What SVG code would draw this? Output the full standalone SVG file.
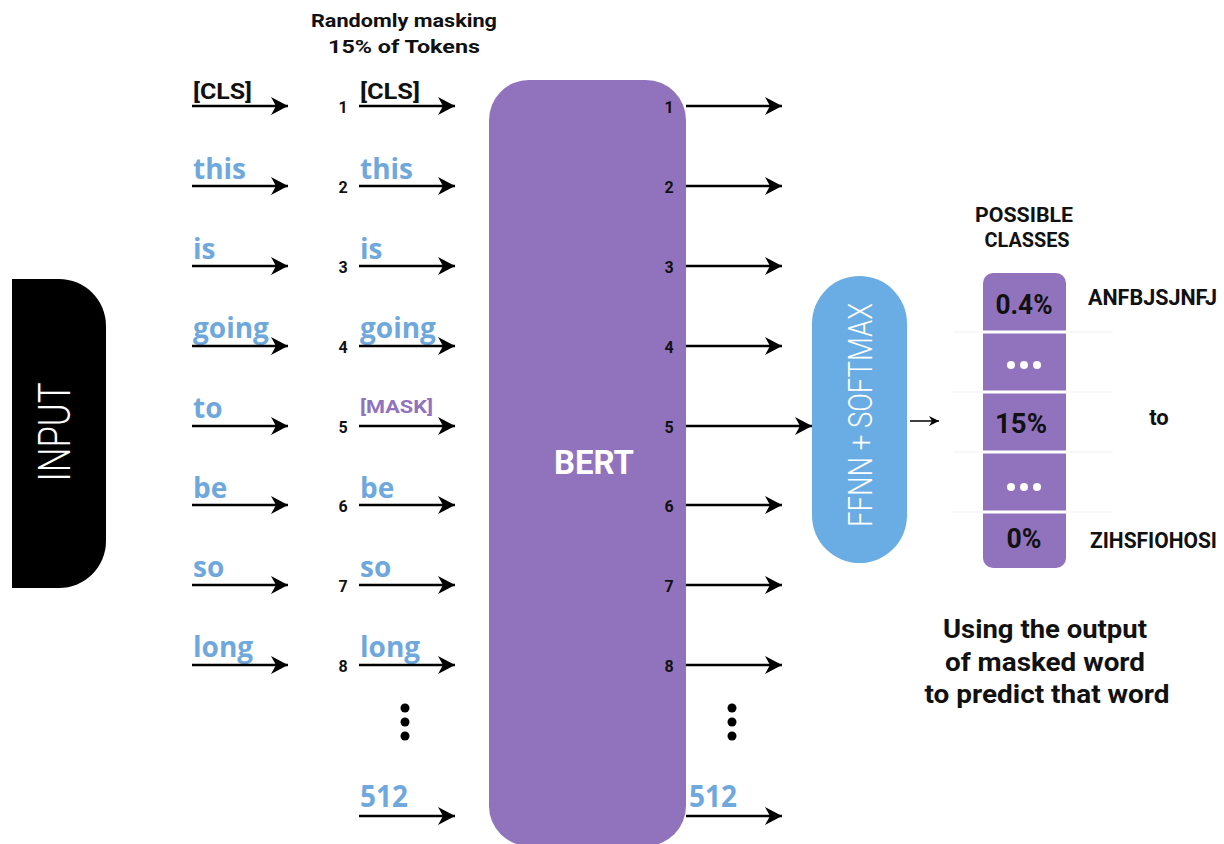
<svg xmlns="http://www.w3.org/2000/svg" width="1224" height="844" viewBox="0 0 1224 844">
<style>
.t{font-family:Roboto,"Liberation Sans",sans-serif;font-weight:bold;fill:#111}
.w{font-family:"Open Sans","Liberation Sans",sans-serif;font-weight:bold;font-size:28px;fill:#6FA8DC}
.n{font-family:Roboto,"Liberation Sans",sans-serif;font-weight:bold;font-size:16px;fill:#111;text-anchor:middle}
.c{stroke:#000;stroke-width:2.5;fill:none}
.sep{stroke:#fff;stroke-width:3}
.faint{stroke:#f6f6f6;stroke-width:1.5}
</style>
<defs>
<marker id="ah" markerUnits="userSpaceOnUse" markerWidth="18" markerHeight="18" refX="17" refY="9" orient="auto">
<path d="M0,0 L17,9 L0,18 L5,9 Z" fill="#000"/>
</marker>
<marker id="ahs" markerUnits="userSpaceOnUse" markerWidth="10" markerHeight="10" refX="10" refY="5" orient="auto">
<path d="M0,0 L10,5 L0,10 L3,5 Z" fill="#000"/>
</marker>
</defs>
<rect width="1224" height="844" fill="#fff"/>

<g id="input">
<path d="M12,279 H59 A47,47 0 0 1 106,326 V541 A47,47 0 0 1 59,588 H12 Z" fill="#000"/>
<text transform="translate(70,432) rotate(-90)" text-anchor="middle" font-family="Roboto,'Liberation Sans',sans-serif" font-weight="300" font-size="44" fill="#fff" textLength="99" lengthAdjust="spacingAndGlyphs">INPUT</text>
</g>

<g id="title">
<text class="t" x="404" y="27" font-size="19" text-anchor="middle" textLength="186" lengthAdjust="spacingAndGlyphs">Randomly masking</text>
<text class="t" x="404" y="53" font-size="19" text-anchor="middle" textLength="152" lengthAdjust="spacingAndGlyphs">15% of Tokens</text>
</g>

<g id="input-tokens">
<text class="t" x="193" y="99" font-size="22" textLength="59" lengthAdjust="spacingAndGlyphs">[CLS]</text>
<text class="w" x="193" y="179">this</text>
<text class="w" x="193" y="259">is</text>
<text class="w" x="193" y="338">going</text>
<text class="w" x="193" y="418">to</text>
<text class="w" x="193" y="498">be</text>
<text class="w" x="193" y="577">so</text>
<text class="w" x="193" y="657">long</text>
</g>

<g id="masked-tokens">
<text class="t" x="360" y="99" font-size="22" textLength="60" lengthAdjust="spacingAndGlyphs">[CLS]</text>
<text class="w" x="360" y="179">this</text>
<text class="w" x="360" y="259">is</text>
<text class="w" x="360" y="338">going</text>
<text class="t" x="360" y="413" font-size="19" style="fill:#9173BD" textLength="73" lengthAdjust="spacingAndGlyphs">[MASK]</text>
<text class="w" x="360" y="498">be</text>
<text class="w" x="360" y="577">so</text>
<text class="w" x="360" y="657">long</text>
<text class="w" x="360" y="807" style="font-size:30px" textLength="48" lengthAdjust="spacingAndGlyphs">512</text>
<circle cx="405" cy="708" r="4.5" fill="#000"/>
<circle cx="405" cy="722" r="4.5" fill="#000"/>
<circle cx="405" cy="736" r="4.5" fill="#000"/>
<text class="n" x="343" y="113">1</text>
<text class="n" x="343" y="193">2</text>
<text class="n" x="343" y="273">3</text>
<text class="n" x="343" y="353">4</text>
<text class="n" x="343" y="433">5</text>
<text class="n" x="343" y="512">6</text>
<text class="n" x="343" y="592">7</text>
<text class="n" x="343" y="672">8</text>
</g>

<g id="bert">
<rect x="489" y="80" width="197" height="766" rx="40" fill="#9173BD"/>
<text class="t" x="594" y="474" font-size="34" text-anchor="middle" style="fill:#fff" textLength="80" lengthAdjust="spacingAndGlyphs">BERT</text>
<text class="n" x="669" y="113">1</text>
<text class="n" x="669" y="193">2</text>
<text class="n" x="669" y="273">3</text>
<text class="n" x="669" y="353">4</text>
<text class="n" x="669" y="433">5</text>
<text class="n" x="669" y="512">6</text>
<text class="n" x="669" y="592">7</text>
<text class="n" x="669" y="672">8</text>
</g>

<g id="outputs">
<text class="w" x="689" y="807" style="font-size:30px" textLength="48" lengthAdjust="spacingAndGlyphs">512</text>
<circle cx="732" cy="708" r="4.5" fill="#000"/>
<circle cx="732" cy="722" r="4.5" fill="#000"/>
<circle cx="732" cy="736" r="4.5" fill="#000"/>
</g>

<g id="ffnn">
<rect x="812" y="276" width="95" height="287" rx="47.5" fill="#6AADE4"/>
<text transform="translate(872,415) rotate(-90)" text-anchor="middle" font-family="Roboto,'Liberation Sans',sans-serif" font-weight="300" font-size="33" fill="#fff" textLength="224" lengthAdjust="spacingAndGlyphs">FFNN + SOFTMAX</text>
</g>

<g id="classes">
<text class="t" x="1024" y="222" font-size="20" text-anchor="middle" textLength="98" lengthAdjust="spacingAndGlyphs">POSSIBLE</text>
<text class="t" x="1027" y="247" font-size="20" text-anchor="middle" textLength="85" lengthAdjust="spacingAndGlyphs">CLASSES</text>
<line class="faint" x1="953" y1="332" x2="1113" y2="332"/>
<line class="faint" x1="953" y1="392" x2="1113" y2="392"/>
<line class="faint" x1="953" y1="452" x2="1113" y2="452"/>
<line class="faint" x1="953" y1="512" x2="1113" y2="512"/>
<rect x="983" y="273" width="83" height="295" rx="10" fill="#9173BD"/>
<line class="sep" x1="983" y1="332" x2="1066" y2="332"/>
<line class="sep" x1="983" y1="392" x2="1066" y2="392"/>
<line class="sep" x1="983" y1="452" x2="1066" y2="452"/>
<line class="sep" x1="983" y1="512" x2="1066" y2="512"/>
<text class="t" x="1024" y="314" font-size="28" text-anchor="middle" textLength="57" lengthAdjust="spacingAndGlyphs">0.4%</text>
<circle cx="1011" cy="365" r="4" fill="#fff"/>
<circle cx="1024" cy="365" r="4" fill="#fff"/>
<circle cx="1037" cy="365" r="4" fill="#fff"/>
<text class="t" x="1021" y="433" font-size="28" text-anchor="middle" textLength="52" lengthAdjust="spacingAndGlyphs">15%</text>
<circle cx="1011" cy="487" r="4" fill="#fff"/>
<circle cx="1024" cy="487" r="4" fill="#fff"/>
<circle cx="1037" cy="487" r="4" fill="#fff"/>
<text class="t" x="1024" y="548" font-size="28" text-anchor="middle" textLength="35" lengthAdjust="spacingAndGlyphs">0%</text>
<text class="t" x="1088" y="305" font-size="22" textLength="129" lengthAdjust="spacingAndGlyphs">ANFBJSJNFJ</text>
<text class="t" x="1159" y="425" font-size="22" text-anchor="middle">to</text>
<text class="t" x="1090" y="548" font-size="22" textLength="127" lengthAdjust="spacingAndGlyphs">ZIHSFIOHOSI</text>
</g>

<g id="caption">
<text class="t" x="1045" y="638" font-size="26" text-anchor="middle" textLength="204" lengthAdjust="spacingAndGlyphs">Using the output</text>
<text class="t" x="1045" y="671" font-size="26" text-anchor="middle" textLength="200" lengthAdjust="spacingAndGlyphs">of masked word</text>
<text class="t" x="1047" y="703" font-size="26" text-anchor="middle" textLength="245" lengthAdjust="spacingAndGlyphs">to predict that word</text>
</g>

<g id="connectors">
<line class="c" x1="192" y1="106" x2="288" y2="106" marker-end="url(#ah)"/>
<line class="c" x1="192" y1="186" x2="288" y2="186" marker-end="url(#ah)"/>
<line class="c" x1="192" y1="266" x2="288" y2="266" marker-end="url(#ah)"/>
<line class="c" x1="192" y1="346" x2="288" y2="346" marker-end="url(#ah)"/>
<line class="c" x1="192" y1="426" x2="288" y2="426" marker-end="url(#ah)"/>
<line class="c" x1="192" y1="505" x2="288" y2="505" marker-end="url(#ah)"/>
<line class="c" x1="192" y1="585" x2="288" y2="585" marker-end="url(#ah)"/>
<line class="c" x1="192" y1="665" x2="288" y2="665" marker-end="url(#ah)"/>

<line class="c" x1="359" y1="106" x2="455" y2="106" marker-end="url(#ah)"/>
<line class="c" x1="359" y1="186" x2="455" y2="186" marker-end="url(#ah)"/>
<line class="c" x1="359" y1="266" x2="455" y2="266" marker-end="url(#ah)"/>
<line class="c" x1="359" y1="346" x2="455" y2="346" marker-end="url(#ah)"/>
<line class="c" x1="359" y1="426" x2="455" y2="426" marker-end="url(#ah)"/>
<line class="c" x1="359" y1="505" x2="455" y2="505" marker-end="url(#ah)"/>
<line class="c" x1="359" y1="585" x2="455" y2="585" marker-end="url(#ah)"/>
<line class="c" x1="359" y1="665" x2="455" y2="665" marker-end="url(#ah)"/>
<line class="c" x1="359" y1="816" x2="455" y2="816" marker-end="url(#ah)"/>

<line class="c" x1="686" y1="106" x2="782" y2="106" marker-end="url(#ah)"/>
<line class="c" x1="686" y1="186" x2="782" y2="186" marker-end="url(#ah)"/>
<line class="c" x1="686" y1="266" x2="782" y2="266" marker-end="url(#ah)"/>
<line class="c" x1="686" y1="346" x2="782" y2="346" marker-end="url(#ah)"/>
<line class="c" x1="686" y1="426" x2="812" y2="426" marker-end="url(#ah)"/>
<line class="c" x1="686" y1="505" x2="782" y2="505" marker-end="url(#ah)"/>
<line class="c" x1="686" y1="585" x2="782" y2="585" marker-end="url(#ah)"/>
<line class="c" x1="686" y1="665" x2="782" y2="665" marker-end="url(#ah)"/>
<line class="c" x1="686" y1="816" x2="782" y2="816" marker-end="url(#ah)"/>

<line x1="910" y1="421" x2="939" y2="421" stroke="#000" stroke-width="1.5" marker-end="url(#ahs)"/>
</g>
</svg>
